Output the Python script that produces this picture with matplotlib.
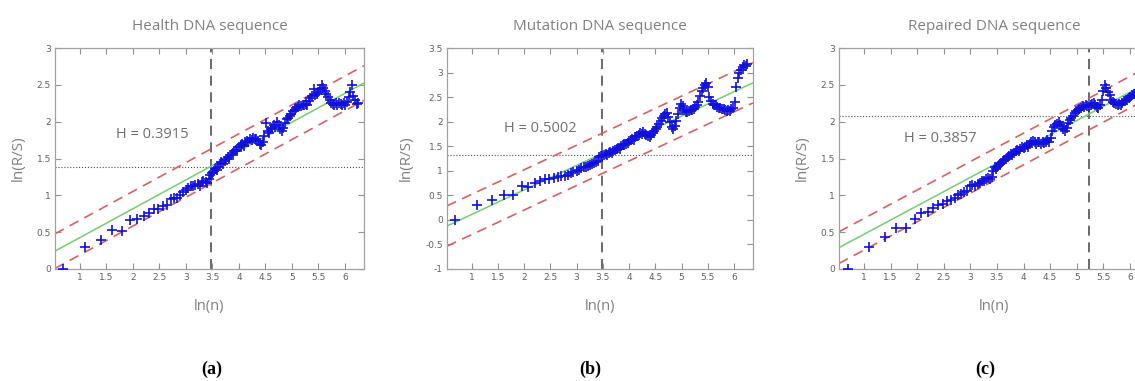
import matplotlib
matplotlib.use('Agg')
import matplotlib.pyplot as plt
from matplotlib.ticker import FuncFormatter

# ln(n) positions shared by the three panels (n = 2..30, then dense part)
ln_n = [0.69, 1.10, 1.39, 1.61, 1.79, 1.95, 2.08, 2.20, 2.30, 2.40,
        2.48, 2.56, 2.64, 2.71, 2.77, 2.83, 2.89, 2.94, 3.00, 3.04,
        3.09, 3.14, 3.18, 3.22, 3.26, 3.30, 3.33, 3.37, 3.40,
        3.43, 3.46, 3.49, 3.52, 3.55, 3.58, 3.61, 3.64, 3.67, 3.70,
        3.73, 3.76, 3.79, 3.82, 3.85, 3.88, 3.91, 3.94, 3.97, 4.00,
        4.03, 4.06, 4.09, 4.12, 4.15, 4.18, 4.21, 4.24, 4.27, 4.30,
        4.33, 4.36, 4.39, 4.42, 4.45, 4.48, 4.51, 4.54, 4.57, 4.60,
        4.63, 4.66, 4.69, 4.72, 4.75, 4.78, 4.81, 4.84, 4.87, 4.90,
        4.93, 4.96, 4.99, 5.02, 5.05, 5.08, 5.11, 5.14, 5.17, 5.20,
        5.23, 5.26, 5.29, 5.32, 5.35, 5.38, 5.41, 5.44, 5.47, 5.50,
        5.53, 5.56, 5.59, 5.62, 5.65, 5.68, 5.71, 5.74, 5.77, 5.80,
        5.83, 5.86, 5.89, 5.92, 5.95, 5.98, 6.01, 6.04, 6.07, 6.10,
        6.13, 6.16, 6.19, 6.22, 6.25]

# ln(R/S) — healthy sequence
rs_health = [0.00, 0.30, 0.40, 0.53, 0.52, 0.67, 0.68, 0.72, 0.76, 0.81,
             0.82, 0.86, 0.87, 0.95, 0.96, 0.96, 1.00, 1.04, 1.07, 1.10,
             1.12, 1.12, 1.14, 1.15, 1.13, 1.18, 1.20, 1.18, 1.17,
             1.22, 1.28, 1.30, 1.32, 1.36, 1.35, 1.38, 1.42, 1.45, 1.43,
             1.47, 1.50, 1.52, 1.50, 1.55, 1.58, 1.60, 1.62, 1.60, 1.66,
             1.68, 1.70, 1.67, 1.72, 1.74, 1.73, 1.76, 1.75, 1.78, 1.76,
             1.77, 1.74, 1.70, 1.69, 1.72, 1.80, 1.98, 1.88, 1.85, 1.90,
             1.92, 1.95, 1.93, 2.00, 1.96, 1.90, 1.87, 1.92, 1.98, 2.03,
             2.05, 2.08, 2.10, 2.14, 2.16, 2.18, 2.20, 2.22, 2.21, 2.23,
             2.22, 2.24, 2.23, 2.28, 2.32, 2.35, 2.45, 2.36, 2.38, 2.40,
             2.45, 2.50, 2.46, 2.42, 2.38, 2.33, 2.29, 2.26, 2.24, 2.22,
             2.25, 2.22, 2.26, 2.24, 2.23, 2.25, 2.22, 2.27, 2.33, 2.40,
             2.50, 2.35, 2.30, 2.24, 2.26]

# ln(R/S) — mutated sequence
rs_mutation = [0.00, 0.30, 0.40, 0.50, 0.50, 0.68, 0.67, 0.76, 0.79, 0.83,
               0.84, 0.86, 0.87, 0.89, 0.90, 0.92, 0.95, 0.97, 1.00, 1.02,
               1.05, 1.07, 1.08, 1.10, 1.12, 1.14, 1.15, 1.17, 1.19,
               1.28, 1.30, 1.31, 1.33, 1.34, 1.33, 1.36, 1.38, 1.37, 1.40,
               1.42, 1.44, 1.46, 1.45, 1.50, 1.52, 1.55, 1.54, 1.57, 1.60,
               1.62, 1.65, 1.63, 1.68, 1.70, 1.72, 1.76, 1.74, 1.78, 1.75,
               1.72, 1.70, 1.68, 1.72, 1.76, 1.80, 1.86, 1.90, 1.96, 2.02,
               2.08, 2.12, 2.15, 2.17, 2.10, 2.00, 1.90, 1.86, 1.92, 2.02,
               2.15, 2.28, 2.36, 2.32, 2.24, 2.19, 2.20, 2.22, 2.24, 2.23,
               2.25, 2.30, 2.33, 2.40, 2.52, 2.62, 2.68, 2.74, 2.78, 2.70,
               2.50, 2.42, 2.36, 2.33, 2.34, 2.30, 2.28, 2.27, 2.25, 2.26,
               2.23, 2.22, 2.24, 2.22, 2.25, 2.27, 2.40, 2.70, 2.88, 3.00,
               3.06, 3.12, 3.16, 3.14, 3.18]

# ln(R/S) — repaired sequence
rs_repaired = [0.00, 0.30, 0.44, 0.55, 0.56, 0.68, 0.76, 0.78, 0.83, 0.87,
               0.88, 0.92, 0.94, 0.97, 1.00, 1.02, 1.04, 1.06, 1.12, 1.14,
               1.13, 1.16, 1.17, 1.19, 1.20, 1.22, 1.24, 1.22, 1.25,
               1.33, 1.38, 1.36, 1.40, 1.42, 1.44, 1.46, 1.48, 1.50, 1.52,
               1.54, 1.56, 1.55, 1.58, 1.60, 1.62, 1.60, 1.63, 1.65, 1.64,
               1.66, 1.68, 1.66, 1.70, 1.72, 1.74, 1.72, 1.70, 1.73, 1.72,
               1.70, 1.72, 1.71, 1.73, 1.75, 1.72, 1.78, 1.88, 1.93, 1.95,
               1.97, 1.99, 1.96, 1.94, 1.90, 1.88, 1.92, 1.98, 2.02, 2.05,
               2.08, 2.12, 2.14, 2.16, 2.17, 2.19, 2.21, 2.20, 2.22, 2.21,
               2.20, 2.22, 2.24, 2.25, 2.23, 2.20, 2.18, 2.22, 2.30, 2.42,
               2.50, 2.46, 2.40, 2.36, 2.30, 2.27, 2.25, 2.24, 2.22, 2.24,
               2.23, 2.25, 2.28, 2.30, 2.29, 2.32, 2.34, 2.36, 2.38, 2.37,
               2.40, 2.36, 2.38, 2.35, 2.37]

titles = ['Health DNA sequence', 'Mutation DNA sequence', 'Repaired DNA sequence']
captions = ['(a)', '(b)', '(c)']
hurst = [0.3915, 0.5002, 0.3857]
intercept = [0.035, -0.39, 0.086]
band = [0.235, 0.41, 0.215]
cross_x = [3.47, 3.48, 5.23]       # vertical dashed line
cross_y = [1.385, 1.33, 2.08]      # horizontal dotted line
h_text_pos = [(1.68, 1.82), (1.62, 1.86), (1.75, 1.77)]
ylims = [(0, 3), (-1, 3.5), (0, 3)]
yticks = [[0, 0.5, 1, 1.5, 2, 2.5, 3],
          [-1, -0.5, 0, 0.5, 1, 1.5, 2, 2.5, 3, 3.5],
          [0, 0.5, 1, 1.5, 2, 2.5, 3]]
xticks = [1, 1.5, 2, 2.5, 3, 3.5, 4, 4.5, 5, 5.5, 6]
xlim = (0.53, 6.36)
series = [rs_health, rs_mutation, rs_repaired]

# positions en pixels (gauche, largeur) sur une figure 1135x381
W, H = 1135, 381
panel_px = [(55, 309), (447, 306), (839, 310)]
caption_x = [212, 590, 985]

fig = plt.figure(figsize=(W / 100, H / 100), dpi=100)
fmt = FuncFormatter(lambda v, p: '%g' % v)

for i in range(3):
    left, width = panel_px[i]
    ax = fig.add_axes([left / W, (H - 269) / H, width / W, 221 / H])

    # fit line and bounds
    xl = list(xlim)
    fit = [hurst[i] * x + intercept[i] for x in xl]
    ax.plot(xl, fit, color='#70d070', lw=1.1, zorder=2)
    ax.plot(xl, [f + band[i] for f in fit], color='#d96060', lw=1.2,
            dashes=(6, 4), zorder=2)
    ax.plot(xl, [f - band[i] for f in fit], color='#d96060', lw=1.2,
            dashes=(6, 4), zorder=2)

    ax.plot(ln_n, series[i], linestyle='none', marker='+', color='#1010dd',
            markersize=7.5, mew=1.2, zorder=3)

    ax.axvline(cross_x[i], color='#505050', lw=1.2, dashes=(6, 4), zorder=1)
    ax.axhline(cross_y[i], color='#505050', lw=0.8, ls=':', zorder=1)

    ax.text(h_text_pos[i][0], h_text_pos[i][1], 'H = %.4f' % hurst[i],
            fontsize=10.5, color='#707070', family='Open Sans',
            ha='left', va='center')

    ax.set_xlim(*xlim)
    ax.set_ylim(*ylims[i])
    ax.set_xticks(xticks)
    ax.set_yticks(yticks[i])
    ax.xaxis.set_major_formatter(fmt)
    ax.yaxis.set_major_formatter(fmt)
    ax.tick_params(direction='in', top=True, right=True, length=4,
                   width=0.8, color='#909090', labelsize=6.5,
                   labelcolor='#606060', pad=3)
    for s in ax.spines.values():
        s.set_color('#a0a0a0')
        s.set_linewidth(0.9)

    ax.set_title(titles[i], fontsize=11, color='#808080', family='Open Sans',
                 pad=13)
    ax.set_xlabel('ln(n)', fontsize=10.5, color='#808080', family='Open Sans',
                  labelpad=12)
    ax.set_ylabel('ln(R/S)', fontsize=11, color='#808080', family='Open Sans',
                  labelpad=8)

    fig.text(caption_x[i] / W, 1 - 369 / H, captions[i], ha='center',
             va='center', fontsize=13, family='Liberation Serif',
             fontweight='bold', color='black')

plt.savefig('out.png', dpi=100)
plt.close()
